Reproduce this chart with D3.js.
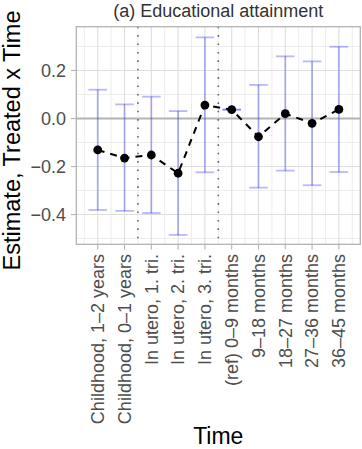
<!DOCTYPE html>
<html>
<head>
<meta charset="utf-8">
<script src="https://cdn.jsdelivr.net/npm/d3@7"></script>
<style>
html,body{margin:0;padding:0;background:#fff;}
svg{display:block;}
text{font-family:"Liberation Sans",Arial,Helvetica,sans-serif;}
</style>
</head>
<body>
<svg id="chart" width="362" height="449"></svg>
<script>
const categories = ["Childhood, 1\u20132 years","Childhood, 0\u20131 years","In utero, 1. tri.","In utero, 2. tri.","In utero, 3. tri.","(ref) 0\u20139 months","9\u201318 months","18\u201327 months","27\u201336 months","36\u201345 months"];
const estimates = [-0.131,-0.165,-0.152,-0.228,0.056,0.037,-0.076,0.020,-0.020,0.038];
const ciLower   = [-0.381,-0.385,-0.394,-0.485,-0.224,0.037,-0.288,-0.217,-0.278,-0.223];
const ciUpper   = [0.120,0.059,0.091,0.031,0.338,0.037,0.140,0.259,0.238,0.299];
const yTicks = [-0.4,-0.2,0.0,0.2];
const yMinorTicks = [-0.5,-0.3,-0.1,0.1,0.3];
const dividerAfter = [1,4]; // dotted lines after these category indices
const title = "(a) Educational attainment";
const xTitle = "Time";
const yTitle = "Estimate, Treated x Time";

const svg = d3.select("#chart");
const P = {left:76.3, right:360.3, top:26.7, bottom:244.3};

const x = d3.scalePoint().domain(categories).range([P.left,P.right]).padding(0.8);
const y = d3.scaleLinear().domain([-0.524,0.3825]).range([P.bottom,P.top]);
const step = x.step();

const g = svg.append("g");

// minor grid
const minorX = categories.map(c=>x(c)-step/2).concat([x(categories[categories.length-1])+step/2]);
g.selectAll(".mx").data(minorX).enter().append("line")
  .attr("x1",d=>d).attr("x2",d=>d).attr("y1",P.top).attr("y2",P.bottom)
  .attr("stroke","#ededed").attr("stroke-width",1);
g.selectAll(".my").data(yMinorTicks).enter().append("line")
  .attr("x1",P.left).attr("x2",P.right).attr("y1",d=>y(d)).attr("y2",d=>y(d))
  .attr("stroke","#ededed").attr("stroke-width",1);
// major grid
g.selectAll(".Mx").data(categories).enter().append("line")
  .attr("x1",d=>x(d)).attr("x2",d=>x(d)).attr("y1",P.top).attr("y2",P.bottom)
  .attr("stroke","#dedede").attr("stroke-width",1.1);
g.selectAll(".My").data(yTicks).enter().append("line")
  .attr("x1",P.left).attr("x2",P.right).attr("y1",d=>y(d)).attr("y2",d=>y(d))
  .attr("stroke","#dedede").attr("stroke-width",1.1);

// zero line
g.append("line").attr("x1",P.left).attr("x2",P.right).attr("y1",y(0)).attr("y2",y(0))
  .attr("stroke","#b3b3b3").attr("stroke-width",2);

// dotted dividers
g.selectAll(".div").data(dividerAfter).enter().append("line")
  .attr("x1",i=>x(categories[i])+step/2).attr("x2",i=>x(categories[i])+step/2)
  .attr("y1",P.top).attr("y2",P.bottom)
  .attr("stroke","#666").attr("stroke-width",1.6).attr("stroke-dasharray","1.6,6.8");

// error bars
const eb = g.selectAll(".eb").data(categories).enter().append("g");
const ebCol = "rgba(0,0,255,0.28)";
eb.append("line").attr("x1",d=>x(d)).attr("x2",d=>x(d))
  .attr("y1",(d,i)=>y(ciLower[i])).attr("y2",(d,i)=>y(ciUpper[i]))
  .attr("stroke",ebCol).attr("stroke-width",1.8);
eb.append("line").attr("x1",d=>x(d)-9.3).attr("x2",d=>x(d)+9.3)
  .attr("y1",(d,i)=>y(ciLower[i])).attr("y2",(d,i)=>y(ciLower[i]))
  .attr("stroke",ebCol).attr("stroke-width",1.8);
eb.append("line").attr("x1",d=>x(d)-9.3).attr("x2",d=>x(d)+9.3)
  .attr("y1",(d,i)=>y(ciUpper[i])).attr("y2",(d,i)=>y(ciUpper[i]))
  .attr("stroke",ebCol).attr("stroke-width",1.8);

// dashed line
const line = d3.line().x((d,i)=>x(categories[i])).y(d=>y(d));
g.append("path").datum(estimates).attr("d",line)
  .attr("fill","none").attr("stroke","#000").attr("stroke-width",2)
  .attr("stroke-dasharray","7,6");

// points
g.selectAll(".pt").data(estimates).enter().append("circle")
  .attr("cx",(d,i)=>x(categories[i])).attr("cy",d=>y(d)).attr("r",4.4).attr("fill","#000");

// panel border
g.append("rect").attr("x",P.left).attr("y",P.top).attr("width",P.right-P.left).attr("height",P.bottom-P.top)
  .attr("fill","none").attr("stroke","#b3b3b3").attr("stroke-width",1.3);

// axes ticks
g.selectAll(".yt").data(yTicks).enter().append("line")
  .attr("x1",P.left-5.3).attr("x2",P.left).attr("y1",d=>y(d)).attr("y2",d=>y(d))
  .attr("stroke","#b3b3b3").attr("stroke-width",1.1);
g.selectAll(".xt").data(categories).enter().append("line")
  .attr("x1",d=>x(d)).attr("x2",d=>x(d)).attr("y1",P.bottom).attr("y2",P.bottom+5.3)
  .attr("stroke","#b3b3b3").attr("stroke-width",1.1);

const fmt = d=> (d<0?"\u2212":"") + d3.format(".1f")(Math.abs(d));
g.selectAll(".yl").data(yTicks).enter().append("text")
  .attr("x",66).attr("y",d=>y(d)).attr("dy","0.35em")
  .attr("text-anchor","end").attr("font-size",18).attr("fill","#4d4d4d")
  .text(fmt);
g.selectAll(".xl").data(categories).enter().append("text")
  .attr("transform",d=>`translate(${x(d)},254) rotate(-90)`).attr("dy","0.35em")
  .attr("text-anchor","end").attr("font-size",18).attr("fill","#4d4d4d")
  .text(d=>d);

// titles
svg.append("text").attr("x",(P.left+P.right)/2).attr("y",17).attr("text-anchor","middle")
  .attr("font-size",18).attr("fill","#333").text(title);
svg.append("text").attr("x",(P.left+P.right)/2).attr("y",444).attr("text-anchor","middle")
  .attr("font-size",23).attr("fill","#000").text(xTitle);
svg.append("text").attr("transform",`translate(20,${(P.top+P.bottom)/2+5}) rotate(-90)`)
  .attr("text-anchor","middle").attr("font-size",23.5).attr("fill","#000").text(yTitle);
</script>
</body>
</html>
